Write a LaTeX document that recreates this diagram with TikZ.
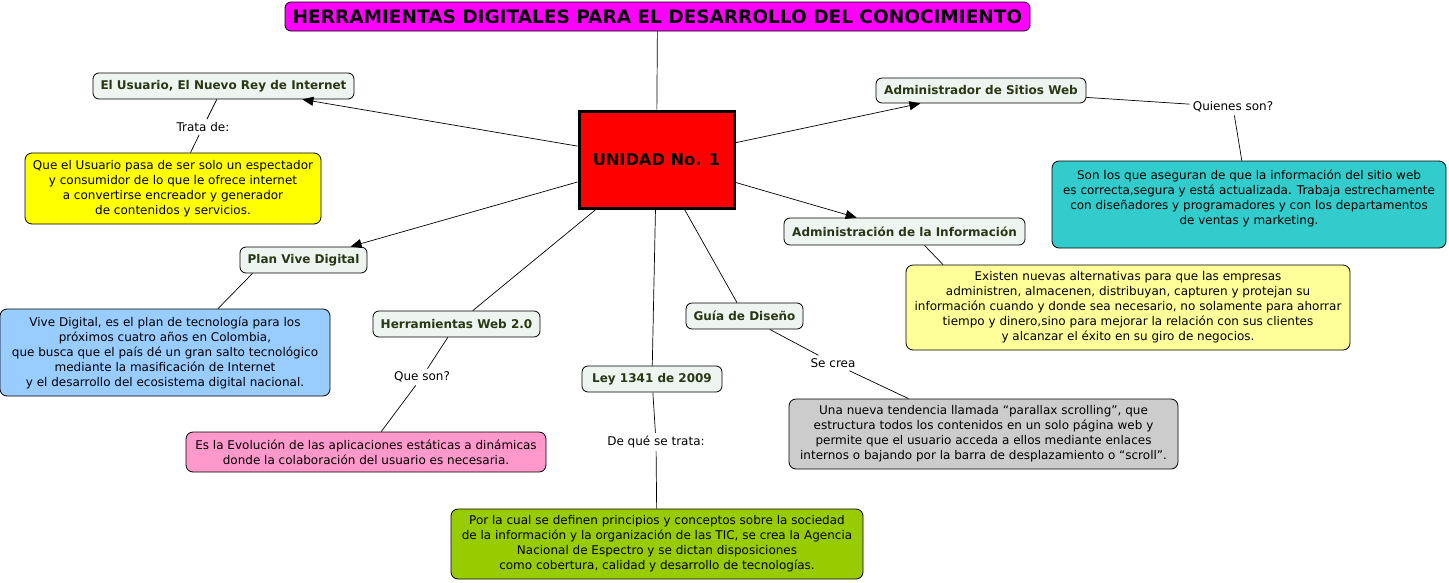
\documentclass[tikz,border=0pt]{standalone}
\usepackage{fontspec}
\setmainfont{DejaVu Sans}
\usetikzlibrary{arrows.meta}
\definecolor{cfill}{RGB}{238,244,240}
\definecolor{ctext}{RGB}{40,55,20}
\definecolor{cmag}{RGB}{255,0,255}
\definecolor{cred}{RGB}{255,0,0}
\definecolor{cyel}{RGB}{255,255,0}
\definecolor{cteal}{RGB}{51,204,204}
\definecolor{clyel}{RGB}{255,255,153}
\definecolor{cblue}{RGB}{153,204,255}
\definecolor{cpink}{RGB}{255,153,204}
\definecolor{cgreen}{RGB}{153,204,0}
\definecolor{cgray}{RGB}{204,204,204}
\begin{document}
\begin{tikzpicture}[x=1pt,y=-1pt,
  concept/.style={draw=black, fill=cfill, rounded corners=6pt, text=ctext, font=\bfseries\fontsize{12}{14}\selectfont, inner sep=0pt, line width=0.8pt, minimum height=26pt},
  info/.style={draw=black, rounded corners=7pt, align=center, font=\fontsize{12}{15}\selectfont, inner sep=0pt, line width=0.8pt},
  lbl/.style={font=\fontsize{12}{14}\selectfont, inner sep=3pt, fill=white},
  link/.style={line width=0.7pt},
  arr/.style={link, -{Triangle[length=11pt,width=9pt]}}
]
\useasboundingbox (0,0) rectangle (1449,582);

% title and centre
\node[draw=black, fill=cmag, rounded corners=6pt, line width=0.8pt, inner sep=0pt,
  minimum width=745pt, minimum height=29pt, font=\bfseries\fontsize{18.5}{20}\selectfont]
  (title) at (657.5,16.5) {HERRAMIENTAS DIGITALES PARA EL DESARROLLO DEL CONOCIMIENTO};
\node[draw=black, fill=cred, line width=3pt, inner sep=0pt,
  minimum width=155pt, minimum height=97pt, font=\bfseries\fontsize{16.2}{18}\selectfont]
  (unidad) at (656.5,159.5) {UNIDAD No. 1};

% concepts
\node[concept, minimum width=261pt] (usr) at (223.5,86) {El Usuario, El Nuevo Rey de Internet};
\node[concept, minimum width=210pt, minimum height=25pt] (asw) at (981,90.5) {Administrador de Sitios Web};
\node[concept, minimum width=241pt, minimum height=27pt] (ainf) at (904.5,231.5) {Administración de la Información};
\node[concept, minimum width=127pt] (pvd) at (303.5,260) {Plan Vive Digital};
\node[concept, minimum width=167pt] (hw) at (456.5,324) {Herramientas Web 2.0};
\node[concept, minimum width=140pt] (ley) at (652,379) {Ley 1341 de 2009};
\node[concept, minimum width=117pt] (gd) at (744.5,316) {Guía de Diseño};

% info boxes
\node[info, fill=cyel, minimum width=296pt, minimum height=71pt] (iusr) at (173,188.5)
  {Que el Usuario pasa de ser solo un espectador\\ y consumidor de lo que le ofrece internet\\ a convertirse encreador y generador\\ de contenidos y servicios.};
\node[info, fill=cteal, minimum width=394pt, minimum height=87pt] (iasw) at (1249,204.5)
  {Son los que aseguran de que la información del sitio web\\ es correcta,segura y está actualizada. Trabaja estrechamente\\ con diseñadores y programadores y con los departamentos\\ de ventas y marketing.\\ \mbox{}};
\node[info, fill=clyel, minimum width=444pt, minimum height=85pt] (iainf) at (1128,307.5)
  {Existen nuevas alternativas para que las empresas\\ administren, almacenen, distribuyan, capturen y protejan su\\ información cuando y donde sea necesario, no solamente para ahorrar\\ tiempo y dinero,sino para mejorar la relación con sus clientes\\ y alcanzar el éxito en su giro de negocios.};
\node[info, fill=cblue, minimum width=330pt, minimum height=87pt] (ipvd) at (165,352.5)
  {Vive Digital, es el plan de tecnología para los\\ próximos cuatro años en Colombia,\\ que busca que el país dé un gran salto tecnológico\\ mediante la masificación de Internet\\ y el desarrollo del ecosistema digital nacional.};
\node[info, fill=cpink, minimum width=360pt, minimum height=40pt] (ihw) at (366,452)
  {Es la Evolución de las aplicaciones estáticas a dinámicas\\ donde la colaboración del usuario es necesaria.};
\node[info, fill=cgreen, minimum width=412pt, minimum height=70pt] (iley) at (657,544)
  {Por la cual se definen principios y conceptos sobre la sociedad\\ de la información y la organización de las TIC, se crea la Agencia\\ Nacional de Espectro y se dictan disposiciones\\ como cobertura, calidad y desarrollo de tecnologías.};
\node[info, fill=cgray, minimum width=389pt, minimum height=70pt] (igd) at (983.5,434)
  {Una nueva tendencia llamada “parallax scrolling”, que\\ estructura todos los contenidos en un solo página web y\\ permite que el usuario acceda a ellos mediante enlaces\\ internos o bajando por la barra de desplazamiento o “scroll”.};

% link labels
\node[lbl] (ltrata) at (203,127) {Trata de:};
\node[lbl] (lquien) at (1233,107) {Quienes son?};
\node[lbl] (lque) at (422,377) {Que son?};
\node[lbl] (ldeque) at (656,442) {De qué se trata:};
\node[lbl] (lsecrea) at (833,363) {Se crea};

% connectors from centre
\draw[link] (title) -- (unidad);
\draw[arr] (unidad) -- (usr);
\draw[arr] (unidad) -- (asw);
\draw[arr] (unidad) -- (ainf);
\draw[arr] (unidad) -- (pvd);
\draw[link] (unidad) -- (hw);
\draw[link] (unidad) -- (ley);
\draw[link] (unidad) -- (gd);

% secondary connectors
\draw[link] (usr) -- (ltrata);
\draw[link] (ltrata) -- (iusr);
\draw[link] (asw) -- (lquien);
\draw[link] (lquien) -- (iasw);
\draw[link] ([xshift=20pt]ainf.south) -- ([xshift=-185pt]iainf.north);
\draw[link] ([xshift=-51pt]pvd.south) -- ([xshift=53pt]ipvd.north);
\draw[link] (hw) -- (lque);
\draw[link] (lque) -- (ihw);
\draw[link] (ley) -- (ldeque);
\draw[link] (ldeque) -- (iley);
\draw[link] (gd) -- (lsecrea);
\draw[link] (lsecrea) -- (igd);
\end{tikzpicture}
\end{document}
